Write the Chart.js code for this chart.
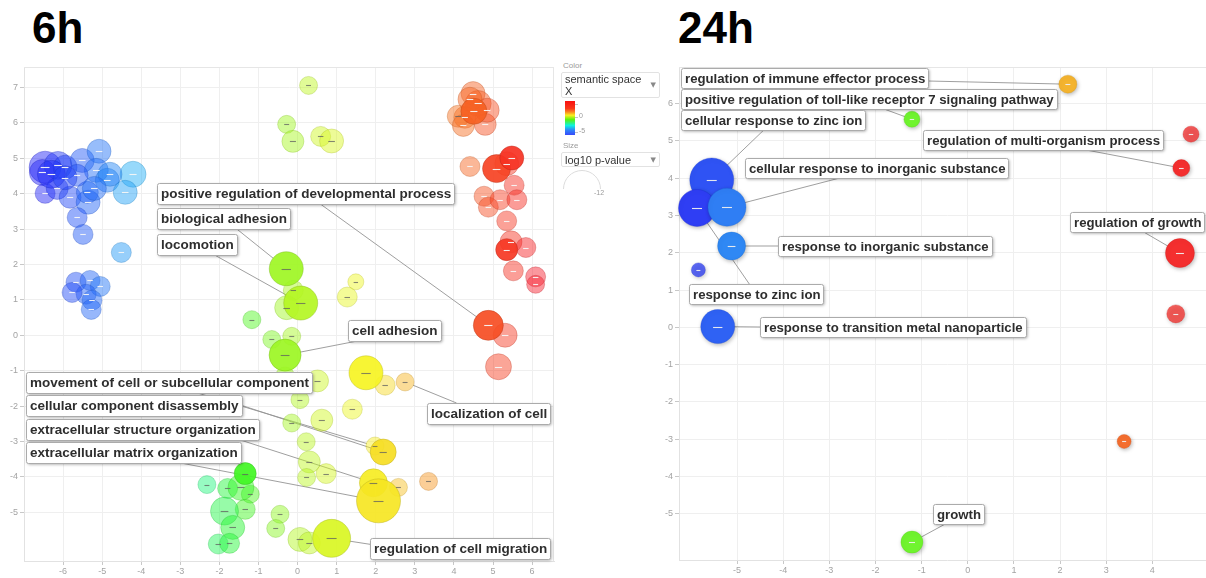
<!DOCTYPE html>
<html><head><meta charset="utf-8">
<script src="https://cdn.jsdelivr.net/npm/chart.js@4/dist/chart.umd.min.js"></script>
<style>
html,body{margin:0;padding:0;width:1206px;height:578px;overflow:hidden;background:#fff;font-family:'Liberation Sans',Arial,sans-serif;}
.title{position:absolute;font:bold 44px 'Liberation Sans',Arial,sans-serif;line-height:44px;color:#000;}
.wrap{position:absolute;}
.lg{position:absolute;color:#9a9a9a;font-family:'Liberation Sans',Arial,sans-serif;white-space:nowrap;}
.sel{position:absolute;border:1px solid #e2e2e2;border-radius:2px;background:#fff;box-sizing:border-box;}
.arr{position:absolute;right:3px;font-size:7px;color:#888;font-family:'DejaVu Sans',sans-serif;}
</style></head><body>
<div class="title" style="left:32px;top:6px">6h</div>
<div class="title" style="left:678px;top:6px">24h</div>
<div class="wrap" style="left:0;top:60px;width:560px;height:518px"><canvas id="c6" width="560" height="518"></canvas></div>
<div class="wrap" style="left:655px;top:60px;width:560px;height:518px"><canvas id="c24" width="560" height="518"></canvas></div>

<!-- legend of the 6h panel -->
<div class="lg" style="left:563px;top:61px;font-size:8px">Color</div>
<div class="sel" style="left:561px;top:72px;width:99px;height:26px;">
  <div style="position:absolute;left:3px;top:1px;width:80px;font-size:11px;line-height:11.5px;color:#333;white-space:normal">semantic space X</div>
  <span class="arr" style="top:8px">&#9660;</span>
</div>
<div style="position:absolute;left:565px;top:101px;width:10px;height:34px;background:linear-gradient(to bottom,hsl(0,95%,52%) 0%,hsl(8,95%,54%) 22%,hsl(28,95%,55%) 32%,hsl(57,95%,55%) 42%,hsl(100,90%,50%) 55%,hsl(175,90%,50%) 72%,hsl(215,95%,58%) 86%,hsl(235,95%,60%) 100%)"></div>
<div style="position:absolute;left:575px;top:104px;width:3px;height:1px;background:#c4c4c4"></div>
<div style="position:absolute;left:575px;top:117px;width:3px;height:1px;background:#c4c4c4"></div>
<div style="position:absolute;left:575px;top:132px;width:3px;height:1px;background:#c4c4c4"></div>
<div class="lg" style="left:579px;top:112px;font-size:7px">0</div>
<div class="lg" style="left:579px;top:127px;font-size:7px">-5</div>
<div class="lg" style="left:563px;top:141px;font-size:8px">Size</div>
<div class="sel" style="left:561px;top:152px;width:99px;height:15px;">
  <div style="position:absolute;left:3px;top:1px;font-size:11px;line-height:12px;color:#333">log10 p-value</div>
  <span class="arr" style="top:3px">&#9660;</span>
</div>
<div style="position:absolute;left:563px;top:170px;width:38px;height:19px;overflow:hidden">
  <div style="width:36px;height:36px;border:1px solid #dcdcdc;border-radius:50%"></div>
</div>
<div class="lg" style="left:594px;top:189px;font-size:7px">-12</div>

<script>
// ---------------- 6h data ----------------
const X6 = [-6.46,-6.53,-6.13,-5.95,-5.51,-5.08,-5.15,-4.87,-4.21,-4.41,-6.46,-6.15,-5.82,-5.36,-5.38,-5.64,-5.49,-4.51,-5.67,-5.31,-5.05,-5.41,-5.26,-5.28,-5.77,-4.80,-5.64,-6.30,-5.95,-5.20,
 0.28,-0.28,-0.12,0.59,0.87,
 -0.29,-0.11,-0.28,0.08,1.49,1.27,-1.17,-0.66,-0.15,-0.32,-0.32,0.51,0.06,-0.15,0.62,1.40,1.75,2.24,2.75,0.22,0.30,0.23,0.73,1.98,2.19,1.94,2.58,3.35,2.07,0.87,0.06,0.30,-0.45,-0.56,
 -1.34,-2.32,-1.79,-1.21,-1.34,-1.87,-1.66,-2.03,-1.74,-1.45,
 4.88,5.31,5.14,4.49,4.62,4.51,4.28,4.11,4.80,4.24,4.85,4.41,4.41,5.09,5.48,5.35,5.54,4.77,4.88,5.18,5.61,5.35,5.35,5.46,5.84,5.52,6.09,6.09];
const Y6 = [4.75,4.60,4.80,4.75,4.94,5.20,4.66,4.38,4.55,4.04,4.01,4.15,3.90,3.76,4.04,3.33,2.85,2.34,1.50,1.55,1.38,1.16,0.99,0.73,1.21,4.55,4.52,4.55,4.45,4.15,
 7.06,5.96,5.48,5.62,5.49,
 1.88,1.27,0.78,0.91,1.51,1.08,0.44,-0.12,-0.03,-0.56,-1.18,-1.29,-1.82,-2.48,-2.40,-2.09,-1.06,-1.41,-1.32,-3.01,-3.58,-4.02,-3.91,-3.13,-3.30,-4.17,-4.30,-4.13,-4.68,-5.74,-5.77,-5.87,-5.06,-5.46,
 -3.91,-4.22,-4.33,-4.49,-4.92,-4.97,-5.43,-5.90,-5.88,-4.30,
 0.28,0.00,-0.89,6.83,6.55,6.33,6.16,6.19,5.96,5.93,6.36,6.67,4.77,4.71,5.01,4.85,4.24,3.93,3.62,3.83,3.83,3.23,2.42,2.64,2.48,1.82,1.65,1.44];
// bubble size (log10 p-value, drawn as radius)
const S6 = [16,13,14,12,12,12,12,12,13,12,10,11,11,12,11,10,10,10,10,10,10,10,10,10,10,12,11,14,12,12,
 9,9,11,10,12,
 17,10,12,17,8,10,9,9,9,16,10,11,9,9,11,10,17,10,9,9,11,9,10,9,13,14,9,9,22,19,12,11,9,9,
 11,9,10,9,10,14,12,10,10,13,
 15,12,13,12,13,13,11,11,11,11,12,12,10,14,12,12,10,10,10,10,10,10,11,11,10,10,10,9];
const HIGHLIGHT6 = [35,38,44,51,59,60,63,64,69,79,84,92,93,101];
const XTICKS6 = [-6,-5,-4,-3,-2,-1,0,1,2,3,4,5,6];
const YTICKS6 = [-5,-4,-3,-2,-1,0,1,2,3,4,5,6,7];
const LABELS6 = ['positive regulation of developmental process','biological adhesion','locomotion','cell adhesion',
 'movement of cell or subcellular component','cellular component disassembly','extracellular structure organization',
 'extracellular matrix organization','localization of cell','regulation of cell migration'];
const TARGETS6 = [79,35,38,44,58,59,60,63,53,64];

// ---------------- 24h data ----------------
const X24 = [2.17,-1.21,4.84,4.63,-5.55,-5.87,-5.22,-5.12,-5.84,-5.42,4.60,4.51,3.39,-1.21];
const Y24 = [6.52,5.58,5.18,4.27,3.95,3.20,3.22,2.18,1.54,0.02,1.99,0.36,-3.06,-5.76];
const S24 = [9,8,8,8.5,22,18.5,19,14,7,17,14.5,9,7,11];
const FADED24 = [2,8,11];
const XTICKS24 = [-5,-4,-3,-2,-1,0,1,2,3,4];
const YTICKS24 = [-5,-4,-3,-2,-1,0,1,2,3,4,5,6];
const LABELS24 = ['regulation of immune effector process','positive regulation of toll-like receptor 7 signaling pathway',
 'cellular response to zinc ion','regulation of multi-organism process','cellular response to inorganic substance',
 'regulation of growth','response to inorganic substance','response to zinc ion','response to transition metal nanoparticle','growth'];
const TARGETS24 = [0,1,4,3,6,10,7,5,9,13];

// ---------------- layout (label boxes: left x, centre y in data units; leader anchor fractions) ----------------
const LAYOUT6 = [[-3.59,4.00,0.55,1],[-3.59,3.29,0.6,1],[-3.59,2.56,0.72,1],[1.29,0.13,0.1,1],
 [-6.94,-1.33,0.6,1],[-6.94,-1.99,1,0.5],[-6.94,-2.67,0.92,1],[-6.94,-3.32,0.72,1],[3.31,-2.22,0.24,0],[1.85,-6.03,0,0.3]];
const LAYOUT24 = [[-6.22,6.68,1,0.65],[-6.22,6.13,0.54,1],[-6.22,5.55,0.45,1],[-0.97,5.02,0.68,1],[-4.83,4.26,0.36,1],
 [2.22,2.83,0.55,1],[-4.12,2.18,0,0.5],[-6.05,0.89,0.45,0],[-4.51,0.02,0,0.5],[-0.75,-5.01,0.24,1]];

const HUE6 = [[-6.5,240],[-5,216],[-4.2,200],[-2.3,145],[-1.3,110],[-0.3,85],[0.5,72],[1.5,62],[2,57],[2.7,42],[3.4,32],[4.5,18],[5,10],[5.5,4],[6.1,-4]];
const HUE24 = [[-5.9,236],[-5.5,228],[-5.2,215],[-1.2,100],[2.2,40],[3.4,19],[4.6,0],[4.9,0]];

function hueOf(tab,x){
  let h = tab[tab.length-1][1];
  if (x <= tab[0][0]) h = tab[0][1];
  else for (let i=1;i<tab.length;i++){ if (x<=tab[i][0]){ const a=tab[i-1],b=tab[i]; h=a[1]+(b[1]-a[1])*(x-a[0])/(b[0]-a[0]); break; } }
  return (h+360)%360;
}

function makePlugin(cfg){
  function box(chart,k){
    const sx=chart.scales.x, sy=chart.scales.y, ctx=chart.ctx, L=cfg.layout[k];
    ctx.font = cfg.font;
    const w = Math.round(ctx.measureText(cfg.labels[k]).width + 7);
    const left = Math.round(sx.getPixelForValue(L[0]));
    const cy = sy.getPixelForValue(L[1]);
    const top = Math.round(cy - cfg.boxH/2);
    return {left, top, w, h: cfg.boxH};
  }
  return {
    id: 'rv' + cfg.name,
    beforeDatasetsDraw(chart){
      const ctx=chart.ctx, a=chart.chartArea, sx=chart.scales.x, sy=chart.scales.y;
      ctx.save();
      ctx.strokeStyle='#e6e6e6'; ctx.lineWidth=1;
      ctx.beginPath();
      ctx.moveTo(a.left, Math.round(a.top)+0.5); ctx.lineTo(a.right, Math.round(a.top)+0.5);
      ctx.moveTo(Math.round(a.right)-0.5, a.top); ctx.lineTo(Math.round(a.right)-0.5, a.bottom);
      ctx.stroke();
      ctx.strokeStyle='#949494'; ctx.lineWidth=0.9;
      cfg.labels.forEach((t,k)=>{
        const b = box(chart,k), L = cfg.layout[k], i = cfg.targets[k];
        const ax = b.left + b.w*L[2], ay = b.top + b.h*L[3];
        const tx = sx.getPixelForValue(cfg.X[i]), ty = sy.getPixelForValue(cfg.Y[i]);
        const dx = ax-tx, dy = ay-ty, d = Math.hypot(dx,dy), r = cfg.S[i];
        if (d <= r) return;
        ctx.beginPath(); ctx.moveTo(ax,ay); ctx.lineTo(tx+dx/d*r*0.95, ty+dy/d*r*0.95); ctx.stroke();
      });
      ctx.restore();
      if (cfg.shadow){ ctx.save(); ctx.shadowColor='rgba(0,0,0,0.28)'; ctx.shadowBlur=4; ctx.shadowOffsetX=1; ctx.shadowOffsetY=1.5; }
    },
    afterDatasetsDraw(chart){
      const ctx=chart.ctx, sx=chart.scales.x, sy=chart.scales.y;
      if (cfg.shadow) ctx.restore();
      ctx.save();
      ctx.lineWidth=1.1;
      cfg.X.forEach((x,i)=>{
        const px=sx.getPixelForValue(x), py=sy.getPixelForValue(cfg.Y[i]);
        const len=Math.max(4, Math.min(10, cfg.S[i]*0.55));
        ctx.strokeStyle = cfg.dashColor(i);
        ctx.beginPath(); ctx.moveTo(px-len/2, Math.round(py)+0.5); ctx.lineTo(px+len/2, Math.round(py)+0.5); ctx.stroke();
      });
      ctx.restore();
    },
    afterDraw(chart){
      const ctx=chart.ctx;
      cfg.labels.forEach((t,k)=>{
        const b=box(chart,k);
        ctx.save();
        ctx.shadowColor='rgba(0,0,0,0.35)'; ctx.shadowBlur=3; ctx.shadowOffsetX=1; ctx.shadowOffsetY=1;
        ctx.fillStyle='#fff';
        ctx.beginPath(); ctx.roundRect(b.left+0.5,b.top+0.5,b.w,b.h,2); ctx.fill();
        ctx.shadowColor='transparent';
        ctx.strokeStyle='#ababab'; ctx.lineWidth=1; ctx.stroke();
        ctx.fillStyle='#2e2e2e'; ctx.font=cfg.font; ctx.textBaseline='middle'; ctx.textAlign='left';
        ctx.fillText(t, b.left+4, b.top+b.h/2+1);
        ctx.restore();
      });
    }
  };
}

function axes(xmin,xmax,ymin,ymax,xt,yt,xh,yw){
  const common = {
    grid:{color:'#efefef', lineWidth:1, drawTicks:true, tickLength:4, tickColor:'#c8c8c8'},
    border:{display:true, color:'#e2e2e2'},
  };
  return {
    x:{type:'linear', min:xmin, max:xmax, ...common,
       afterBuildTicks: s=>{ s.ticks = xt.map(v=>({value:v})); },
       afterFit: s=>{ s.height = xh; },
       ticks:{font:{size:9,family:'Liberation Sans'}, color:'#a3a3a3', padding:1, maxRotation:0, autoSkip:false}},
    y:{type:'linear', min:ymin, max:ymax, ...common,
       afterBuildTicks: s=>{ s.ticks = yt.map(v=>({value:v})); },
       afterFit: s=>{ s.width = yw; },
       ticks:{font:{size:9,family:'Liberation Sans'}, color:'#a3a3a3', padding:2, autoSkip:false}}
  };
}

// ---------- 6h chart ----------
(function(){
  const hue = X6.map(x=>hueOf(HUE6,x));
  const hi = new Set(HIGHLIGHT6);
  const pts = i=>({x:X6[i], y:Y6[i], r:S6[i]});
  const idxHi = X6.map((_,i)=>i).filter(i=>hi.has(i));
  const idxLo = X6.map((_,i)=>i).filter(i=>!hi.has(i));
  const ds = (idx,alpha,balpha)=>({
    data: idx.map(pts),
    backgroundColor: idx.map(i=>`hsla(${hue[i]},92%,55%,${alpha})`),
    borderColor: idx.map(i=>`hsla(${hue[i]},75%,42%,${balpha})`),
    borderWidth: 0.8, hoverRadius:0, clip:false
  });
  new Chart(document.getElementById('c6'), {
    type:'bubble',
    data:{datasets:[ds(idxHi,0.92,0.55), ds(idxLo,0.47,0.38)]},
    options:{
      responsive:false, animation:false, events:[],
      layout:{autoPadding:false, padding:{top:7,right:6,bottom:0,left:0}},
      plugins:{legend:{display:false}, tooltip:{enabled:false}},
      scales: axes(-7.0,6.56,-6.38,7.57,XTICKS6,YTICKS6,17,24)
    },
    plugins:[makePlugin({name:'6', X:X6, Y:Y6, S:S6, labels:LABELS6, targets:TARGETS6, layout:LAYOUT6,
      font:'bold 13.5px "Liberation Sans", Arial, sans-serif', boxH:21, shadow:false,
      dashColor:i=>{ const h=hue[i]; return ((h>=170&&h<=265)||h<=22||h>=340) ? 'rgba(245,245,245,0.95)' : 'rgba(95,95,95,0.75)'; }})]
  });
})();

// ---------- 24h chart ----------
(function(){
  const hue = X24.map(x=>hueOf(HUE24,x));
  const faded = new Set(FADED24);
  new Chart(document.getElementById('c24'), {
    type:'bubble',
    data:{datasets:[{
      data: X24.map((x,i)=>({x, y:Y24[i], r:S24[i]})),
      backgroundColor: X24.map((_,i)=>`hsla(${hue[i]},90%,57%,${faded.has(i)?0.78:1})`),
      borderColor: X24.map((_,i)=>`hsla(${hue[i]},80%,45%,0.5)`),
      borderWidth: 0.6, hoverRadius:0, clip:false
    }]},
    options:{
      responsive:false, animation:false, events:[],
      layout:{autoPadding:false, padding:{top:6,right:0,bottom:0,left:0}},
      plugins:{legend:{display:false}, tooltip:{enabled:false}},
      scales: axes(-6.26,5.36,-6.24,6.97,XTICKS24,YTICKS24,18,24)
    },
    plugins:[makePlugin({name:'24', X:X24, Y:Y24, S:S24, labels:LABELS24, targets:TARGETS24, layout:LAYOUT24,
      font:'bold 13.2px "Liberation Sans", Arial, sans-serif', boxH:20, shadow:true,
      dashColor:()=> 'rgba(238,238,238,0.95)'})]
  });
})();
</script>
</body></html>
